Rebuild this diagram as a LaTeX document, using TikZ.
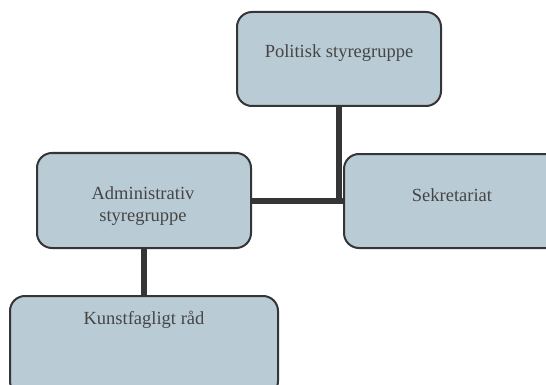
\documentclass[tikz,border=0pt]{standalone}
\usepackage{fontspec}
\setmainfont{Liberation Serif}
\definecolor{boxfill}{HTML}{B9CBD5}
\definecolor{boxline}{HTML}{353535}
\definecolor{txtcol}{HTML}{454545}
\begin{document}
\begin{tikzpicture}[x=1pt,y=-1pt,
  orgbox/.style={draw=boxline,line width=2pt,fill=boxfill,rounded corners=15pt,inner sep=0pt},
  txt/.style={text=txtcol,font=\fontsize{18.5}{22}\selectfont,align=center,inner sep=0pt},
  conn/.style={draw=boxline,line width=6pt}]
\useasboundingbox (0,0) rectangle (546,385);
\clip (0,0) rectangle (546,385);
\node[orgbox,minimum width=204pt,minimum height=94pt] (pol) at (339,59) {};
\node[orgbox,minimum width=214pt,minimum height=95pt] (adm) at (144,200.5) {};
\node[orgbox,minimum width=220pt,minimum height=94pt] (sek) at (454,201) {};
\node[orgbox,minimum width=268pt,minimum height=100pt] (kun) at (144,346) {};
\node[txt] (tpol) at (339,53) {Politisk styregruppe};
\node[txt] (tadm) at (143,206) {Administrativ\\styregruppe};
\node[txt] (tsek) at (452,195) {Sekretariat};
\node[txt] (tkun) at (144,320) {Kunstfagligt råd};
\draw[conn] (adm.east) -- (adm.east -| sek.west);
\draw[conn] (pol.south) -- (pol.south |- adm.east);
\draw[conn] (adm.south) -- (kun.north);
\end{tikzpicture}
\end{document}
